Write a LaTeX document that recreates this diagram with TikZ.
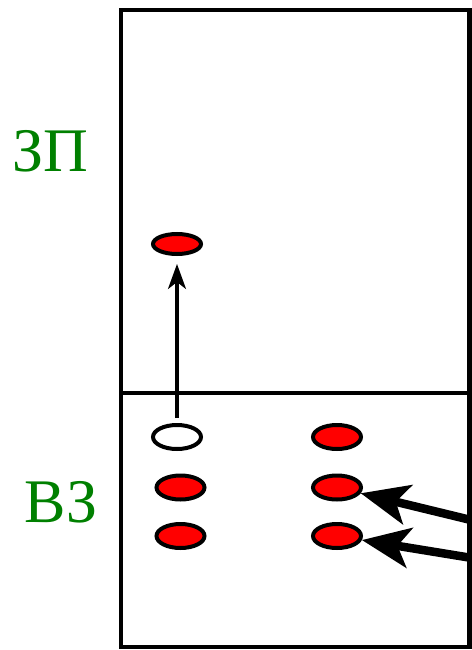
\documentclass[tikz,border=0pt]{standalone}
\usepackage{fontspec}
\setmainfont{Liberation Serif}
\usetikzlibrary{arrows.meta,shapes.geometric}
\definecolor{lblgreen}{RGB}{0,128,0}
\tikzset{
  frame/.style={line width=4.5pt},
  divider/.style={line width=4pt},
  dot/.style={ellipse, draw=black, line width=4pt, fill=red, minimum width=48pt, minimum height=24pt, inner sep=0pt},
  topdot/.style={dot, minimum height=20pt},
  emptydot/.style={dot, fill=white},
  lbl/.style={text=lblgreen, font=\fontsize{62}{62}\selectfont, anchor=base, inner sep=0pt},
  thinarrow/.style={line width=3.2pt, -{Stealth[length=25pt,width=18pt,inset=7pt]}},
  thickarrow/.style={line width=8.5pt, -{Stealth[length=48pt,width=40pt,inset=12pt]}}
}
\begin{document}
\begin{tikzpicture}[x=1pt,y=-1pt]
\useasboundingbox (0,0) rectangle (471,650);
\draw[frame] (121,10) rectangle (469.5,647);
\draw[divider] (121,393) -- (471,393);
\node[lbl] (zp) at (50.5,171) {ЗП};
\node[lbl] (vz) at (61,522) {ВЗ};
\node[topdot] (t) at (177,244) {};
\node[emptydot] (o) at (177,437) {};
\node[dot] (l2) at (180.5,487.5) {};
\node[dot] (l3) at (180.5,536) {};
\node[dot] (r1) at (337,437) {};
\node[dot] (r2) at (337,487.5) {};
\node[dot] (r3) at (337,536) {};
\draw[thinarrow, shorten <=5pt, shorten >=8pt] (o) -- (t);
\coordinate (a1) at (475,521);
\coordinate (a2) at (475,558.5);
\draw[thickarrow] (a1) -- (r2);
\draw[thickarrow] (a2) -- (r3);
\end{tikzpicture}
\end{document}
